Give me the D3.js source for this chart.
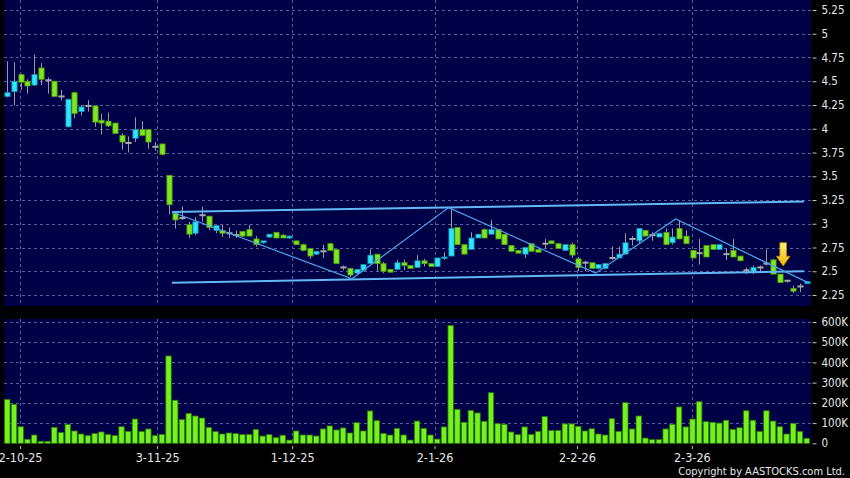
<!DOCTYPE html>
<html><head><meta charset="utf-8">
<script src="https://cdn.jsdelivr.net/npm/d3@7"></script>
<style>html,body{margin:0;padding:0;background:#000;overflow:hidden;} svg{display:block;font-family:"DejaVu Sans",sans-serif;}</style>
</head><body><svg id="c" width="850" height="478"></svg>
<script>
// ---- data ----
const openP  = [4.34,4.39,4.57,4.50,4.46,4.64,4.51,4.50,4.34,4.02,4.38,4.18,4.24,4.24,4.09,4.08,4.06,3.93,3.85,3.90,
                3.99,3.99,3.81,3.84,3.51,3.11,3.06,2.99,2.90,3.09,3.08,2.93,2.93,2.90,2.88,2.92,2.94,2.84,2.80,2.86,
                2.91,2.88,2.85,2.82,2.78,2.74,2.68,2.71,2.79,2.73,2.54,2.53,2.48,2.51,2.58,2.68,2.58,2.52,2.52,2.59,
                2.56,2.54,2.61,2.58,2.55,2.64,2.66,2.96,2.78,2.73,2.85,2.94,2.89,2.94,2.89,2.77,2.72,2.68,2.79,2.73,
                2.79,2.82,2.79,2.72,2.78,2.63,2.59,2.59,2.53,2.53,2.64,2.64,2.68,2.84,2.82,2.93,2.88,2.86,2.91,2.80,
                2.95,2.87,2.72,2.69,2.77,2.78,2.73,2.68,2.72,2.66,2.51,2.50,2.54,2.58,2.62,2.47,2.40,2.32,2.34,2.37];
const highP  = [4.71,4.70,4.58,4.52,4.78,4.69,4.54,4.50,4.41,4.31,4.39,4.25,4.30,4.24,4.16,4.17,4.06,3.95,3.92,4.12,
                4.08,3.99,3.86,3.84,3.51,3.12,3.18,3.02,3.07,3.18,3.08,2.98,2.99,2.96,2.93,2.92,2.99,2.87,2.82,2.89,
                2.91,2.89,2.88,2.82,2.79,2.74,2.71,2.78,2.80,2.73,2.56,2.53,2.52,2.57,2.73,2.68,2.60,2.52,2.62,2.62,
                2.56,2.67,2.63,2.58,2.64,2.70,3.16,2.96,2.78,2.91,2.89,2.95,3.04,2.94,2.89,2.77,2.72,2.75,2.79,2.73,
                2.84,2.82,2.80,2.78,2.80,2.65,2.61,2.59,2.57,2.58,2.76,2.76,2.90,2.87,2.95,2.93,2.91,2.90,2.95,2.95,
                3.04,2.93,2.72,2.84,2.77,2.78,2.78,2.74,2.84,2.66,2.54,2.56,2.56,2.73,2.63,2.47,2.41,2.35,2.37,2.39];
const lowP   = [4.33,4.25,4.41,4.37,4.45,4.46,4.37,4.33,4.30,4.02,4.11,4.14,4.18,4.02,3.94,4.02,3.95,3.78,3.75,3.86,
                3.92,3.79,3.77,3.72,3.10,2.95,3.04,2.85,2.88,3.02,2.93,2.90,2.86,2.85,2.85,2.86,2.87,2.76,2.79,2.85,
                2.85,2.85,2.84,2.78,2.71,2.63,2.67,2.64,2.72,2.58,2.51,2.44,2.47,2.50,2.58,2.50,2.48,2.49,2.52,2.51,
                2.53,2.54,2.55,2.55,2.55,2.62,2.66,2.78,2.68,2.73,2.85,2.85,2.89,2.84,2.78,2.71,2.69,2.64,2.71,2.70,
                2.74,2.79,2.74,2.72,2.64,2.50,2.50,2.53,2.52,2.52,2.62,2.64,2.68,2.77,2.79,2.87,2.82,2.86,2.78,2.78,
                2.84,2.79,2.64,2.57,2.65,2.73,2.73,2.62,2.65,2.61,2.47,2.47,2.50,2.56,2.47,2.38,2.38,2.27,2.28,2.37];
const closeP = [4.38,4.50,4.49,4.45,4.57,4.52,4.51,4.34,4.34,4.31,4.16,4.23,4.24,4.07,4.06,4.03,3.95,3.86,3.85,3.99,
                3.93,3.86,3.81,3.73,3.20,3.04,3.06,2.89,3.02,3.09,2.96,2.98,2.90,2.90,2.88,2.87,2.87,2.78,2.82,2.89,
                2.85,2.85,2.87,2.78,2.72,2.66,2.71,2.71,2.72,2.58,2.54,2.46,2.52,2.57,2.67,2.58,2.50,2.49,2.59,2.56,
                2.53,2.61,2.58,2.55,2.64,2.65,2.95,2.78,2.68,2.85,2.89,2.85,2.94,2.84,2.78,2.71,2.69,2.75,2.71,2.70,
                2.79,2.79,2.74,2.78,2.67,2.54,2.59,2.53,2.57,2.58,2.64,2.68,2.80,2.84,2.95,2.87,2.88,2.90,2.78,2.86,
                2.84,2.79,2.64,2.69,2.65,2.73,2.78,2.68,2.65,2.61,2.51,2.54,2.54,2.58,2.47,2.38,2.40,2.29,2.34,2.39];
const volumeK = [217,193,82,20,41,10,10,79,53,94,61,46,38,48,56,44,38,82,59,120,
                 58,71,38,44,432,213,117,148,135,125,79,58,46,51,48,43,43,69,36,43,
                 28,40,16,61,41,41,36,71,86,66,76,51,102,61,160,112,49,41,74,41,
                 16,110,74,41,21,81,583,168,104,163,150,109,250,97,94,56,43,81,44,59,
                 132,63,63,96,96,84,61,72,46,41,122,59,201,71,135,26,18,18,71,94,
                 180,81,120,206,107,104,100,114,69,77,161,114,59,161,110,82,46,99,59,25];
const priceTicks = [2.25,2.5,2.75,3,3.25,3.5,3.75,4,4.25,4.5,4.75,5,5.25];
const volumeTicks = [0,100,200,300,400,500,600];
const dateLabels = ["2-10-25","3-11-25","1-12-25","2-1-26","2-2-26","2-3-26"];
const dateIndex  = [1.9,22.3,42.4,63.6,84.8,101.9];
// drawn trend lines: [bar index, price]
const channelUpper = [[24.5,3.124],[118.6,3.234]];
const channelLower = [[24.5,2.38],[118.6,2.50]];
const zigzagLine   = [[24.5,3.124],[51.3,2.42],[65.7,3.17],[87.6,2.48],[99.5,3.05],[119.2,2.38]];
const arrowMark    = {index:115.5, top:2.80, bottom:2.555};

// ---- layout ----
const svg = d3.select("#c");
const N = closeP.length;
const plotL = 4, plotR = 811;
const priceTop = 0, priceBot = 306, volTop = 319, volBot = 444;
const x  = d3.scaleLinear().domain([0, N-1]).range([7.3, 806.7]);
const yP = d3.scaleLinear().domain([2.25, 5.25]).range([295, 10]);
const yV = d3.scaleLinear().domain([0, 600]).range([443.3, 322]);
const navy = "#000046", gridC = "#56609a", textC = "#e6e6e6";
const condensed = "'DejaVu Sans Condensed', 'DejaVu Sans', sans-serif";

svg.append("rect").attr("width",850).attr("height",478).attr("fill","#000");
svg.append("rect").attr("x",plotL).attr("y",priceTop).attr("width",plotR-plotL).attr("height",priceBot-priceTop).attr("fill",navy);
svg.append("rect").attr("x",plotL).attr("y",volTop).attr("width",plotR-plotL).attr("height",volBot-volTop).attr("fill",navy);

// grids
const g = svg.append("g").attr("stroke",gridC).attr("stroke-width",1).attr("stroke-dasharray","3,3").attr("fill","none");
priceTicks.forEach(p => g.append("line").attr("x1",plotL).attr("x2",plotR).attr("y1",Math.round(yP(p))+0.5).attr("y2",Math.round(yP(p))+0.5));
volumeTicks.filter(v=>v>0).forEach(v => g.append("line").attr("x1",plotL).attr("x2",plotR).attr("y1",Math.round(yV(v))+0.5).attr("y2",Math.round(yV(v))+0.5));
dateIndex.forEach(d => {
  const xx = Math.round(x(d))+0.5;
  g.append("line").attr("x1",xx).attr("x2",xx).attr("y1",priceTop).attr("y2",priceBot);
  g.append("line").attr("x1",xx).attr("x2",xx).attr("y1",volTop).attr("y2",volBot);
});

// volume bars
const bw = 5.4;
svg.append("g").selectAll("rect").data(volumeK).join("rect")
  .attr("x",(d,i)=>x(i)-bw/2).attr("y",d=>yV(d)).attr("width",bw).attr("height",d=>yV(0)-yV(d))
  .attr("fill","#74f21c").attr("stroke","#2f7a08").attr("stroke-width",0.8);

// candles
const cg = svg.append("g");
const cw = 5.2;
for (let i=0;i<N;i++){
  const o=openP[i], c=closeP[i], h=highP[i], l=lowP[i];
  const xc = Math.round(x(i))+0.5;
  cg.append("line").attr("x1",xc).attr("x2",xc).attr("y1",yP(h)).attr("y2",yP(l)).attr("stroke","#9a9a9a").attr("stroke-width",1);
  if (Math.abs(c-o) < 0.001){
    cg.append("rect").attr("x",xc-cw/2-0.5).attr("y",yP(c)-1).attr("width",cw+1).attr("height",2).attr("fill","#a8a8a8");
  } else {
    const up = c>o;
    const y0 = yP(Math.max(o,c)), y1 = yP(Math.min(o,c));
    cg.append("rect").attr("x",xc-cw/2).attr("y",y0).attr("width",cw).attr("height",Math.max(1.5,y1-y0))
      .attr("fill", up ? "#2ee6ff" : "#7ee81e").attr("stroke", up ? "#1490b0" : "#4f9a10").attr("stroke-width",0.8);
  }
}

// trend lines
const line = d3.line().x(d=>x(d[0])).y(d=>yP(d[1]));
svg.append("path").attr("d",line(channelUpper)).attr("fill","none").attr("stroke","#62b8f4").attr("stroke-width",2);
svg.append("path").attr("d",line(channelLower)).attr("fill","none").attr("stroke","#62b8f4").attr("stroke-width",2);
svg.append("path").attr("d",line(zigzagLine)).attr("fill","none").attr("stroke","#4aa6e8").attr("stroke-width",1.2);

// arrow
const defs = svg.append("defs");
const gr = defs.append("linearGradient").attr("id","ag").attr("x1",0).attr("x2",0).attr("y1",0).attr("y2",1);
gr.append("stop").attr("offset","0%").attr("stop-color","#fff27a");
gr.append("stop").attr("offset","100%").attr("stop-color","#f5b400");
const ax = x(arrowMark.index), at = yP(arrowMark.top), ab = yP(arrowMark.bottom);
const hh = (ab-at)*0.42;
svg.append("path").attr("d",
  `M${ax-3.3},${at} L${ax+3.3},${at} L${ax+3.3},${ab-hh} L${ax+6.8},${ab-hh} L${ax},${ab} L${ax-6.8},${ab-hh} L${ax-3.3},${ab-hh} Z`)
  .attr("fill","url(#ag)").attr("stroke","#c88a00").attr("stroke-width",0.8);

// right axes
const fmtP = d => String(+d.toFixed(2));
const axP = svg.append("g").attr("transform",`translate(${plotR+1.5},0)`)
  .call(d3.axisRight(yP).tickValues(priceTicks).tickFormat(fmtP).tickSize(4).tickPadding(5));
const axV = svg.append("g").attr("transform",`translate(${plotR+1.5},0)`)
  .call(d3.axisRight(yV).tickValues(volumeTicks).tickFormat(d=>d===0?"0":d+"K").tickSize(4).tickPadding(5));
[axP,axV].forEach(a=>{
  a.select(".domain").remove();
  a.selectAll("line").attr("stroke","#bbbbbb");
  a.selectAll("text").attr("fill",textC).style("font-size","11.5px").style("font-family",condensed);
});

// bottom axis
const axX = svg.append("g").attr("transform",`translate(0,${volBot+2})`)
  .call(d3.axisBottom(x).tickValues(dateIndex).tickFormat((d,i)=>dateLabels[i]).tickSize(3).tickPadding(4));
axX.select(".domain").remove();
axX.selectAll("line").attr("stroke","#bbbbbb");
axX.selectAll("text").attr("fill",textC).style("font-size","12.5px").style("font-family",condensed);

svg.append("text").attr("x",845).attr("y",475).attr("text-anchor","end").attr("fill",textC)
  .style("font-size","11px").style("font-family",condensed).text("Copyright by AASTOCKS.com Ltd.");
</script></body></html>
